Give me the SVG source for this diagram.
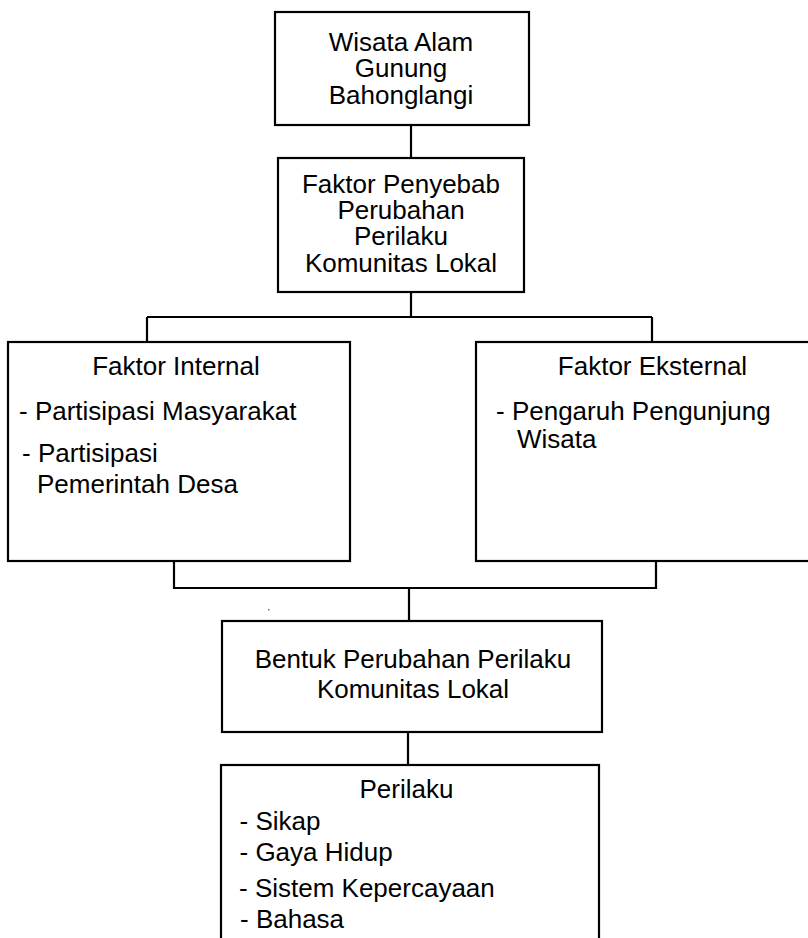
<svg xmlns="http://www.w3.org/2000/svg" width="808" height="938" viewBox="0 0 808 938">
<style>
.box{fill:#fff;stroke:#000;stroke-width:2.2}
.ln{fill:none;stroke:#000;stroke-width:2.2}
text{font-family:"Liberation Sans",Arial,sans-serif;font-size:26px;fill:#000}
.c{text-anchor:middle}
</style>
<rect width="808" height="938" fill="#fff"/>
<g id="connectors">
<line class="ln" x1="411" y1="125" x2="411" y2="158"/>
<path class="ln" d="M411 292 V317 M147 317 H652 M147 317 V342 M652 317 V342"/>
<path class="ln" d="M174 561 V588 H656 V561 M409 588 V621"/>
<line class="ln" x1="408" y1="732" x2="408" y2="765"/>
</g>
<g id="node-wisata">
<rect class="box" x="275" y="12" width="254" height="113"/>
<text class="c" x="401" y="50.5">Wisata Alam</text>
<text class="c" x="401" y="77">Gunung</text>
<text class="c" x="401" y="103.5">Bahonglangi</text>
</g>
<g id="node-faktor">
<rect class="box" x="278" y="158" width="246" height="134"/>
<text class="c" x="401" y="193">Faktor Penyebab</text>
<text class="c" x="401" y="219">Perubahan</text>
<text class="c" x="401" y="245">Perilaku</text>
<text class="c" x="401" y="271.5">Komunitas Lokal</text>
</g>
<g id="node-internal">
<rect class="box" x="8" y="342" width="342" height="219"/>
<text class="c" x="176" y="375">Faktor Internal</text>
<text x="19" y="420">- Partisipasi Masyarakat</text>
<text x="22" y="461.5">- Partisipasi</text>
<text x="37" y="493">Pemerintah Desa</text>
</g>
<g id="node-eksternal">
<rect class="box" x="476" y="342" width="345" height="219"/>
<text class="c" x="652.5" y="375">Faktor Eksternal</text>
<text x="496" y="420">- Pengaruh Pengunjung</text>
<text x="517" y="448">Wisata</text>
</g>
<g id="node-bentuk">
<rect class="box" x="222" y="621" width="380" height="111"/>
<text class="c" x="413" y="668">Bentuk Perubahan Perilaku</text>
<text class="c" x="413" y="698">Komunitas Lokal</text>
</g>
<g id="node-perilaku">
<rect class="box" x="221" y="765" width="378" height="190"/>
<text class="c" x="406.5" y="797.5">Perilaku</text>
<text x="239.5" y="830">- Sikap</text>
<text x="239.5" y="860.5">- Gaya Hidup</text>
<text x="239" y="896.5">- Sistem Kepercayaan</text>
<text x="240" y="927.5">- Bahasa</text>
</g>
<rect x="268" y="609" width="1.5" height="1.5" fill="#4472c4"/>
</svg>
